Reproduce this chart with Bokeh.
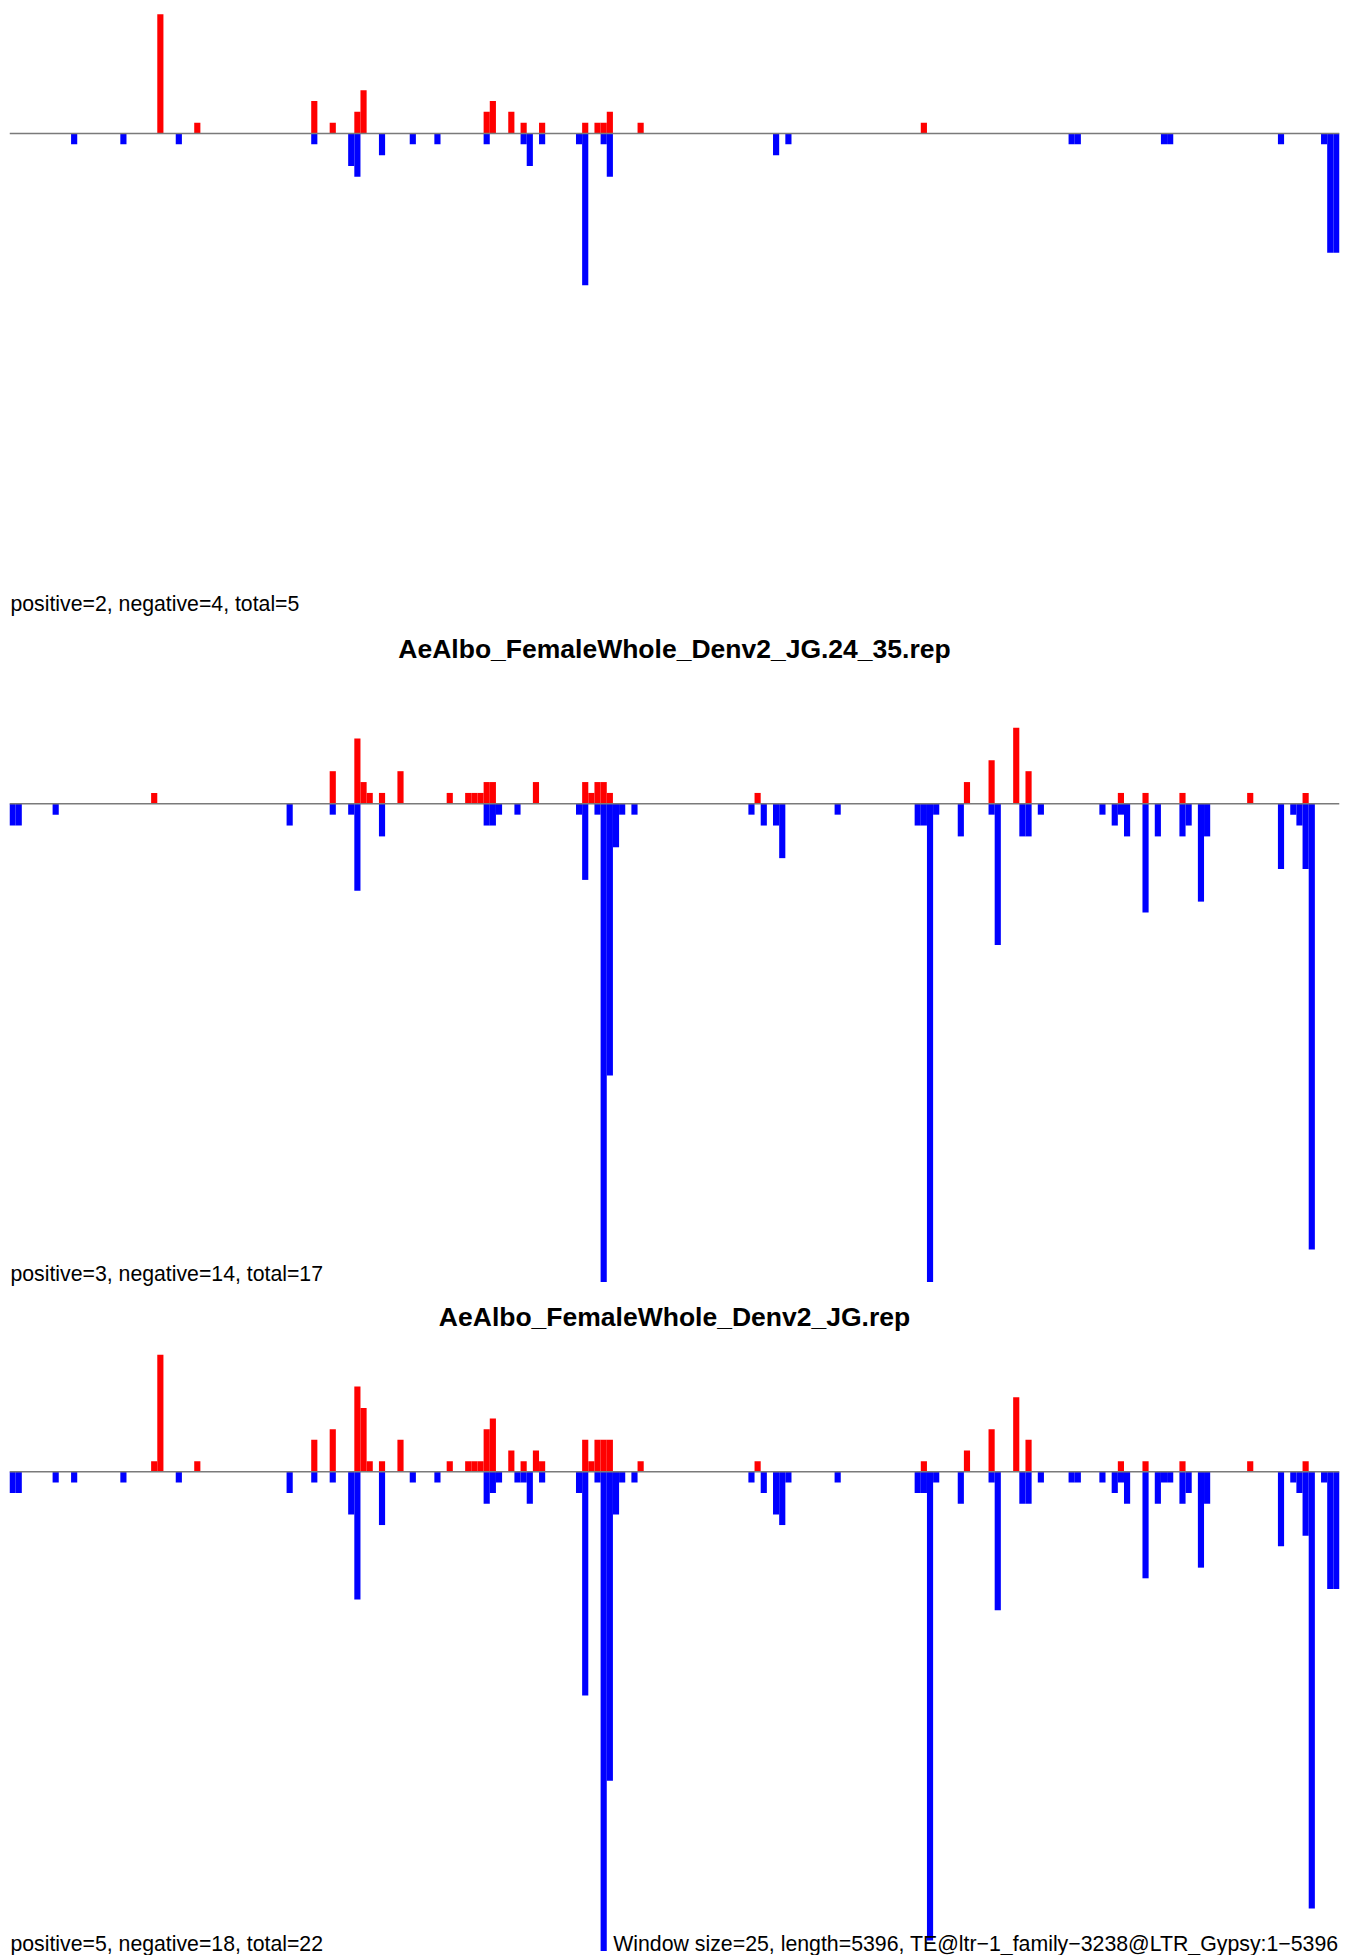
from bokeh.plotting import figure
from bokeh.models import Range1d, Label, ColumnDataSource, Span
from bokeh.layouts import column
from bokeh.embed import file_html
from bokeh.resources import INLINE

WINDOW = 25
LENGTH = 5396
N_WIN = 216

# ---- panel 1 (its title lies above the visible area) ----
p1_pos_win = [24, 30, 49, 52, 56, 57, 77, 78, 81, 83, 86, 93, 95, 96, 97, 102, 148]
p1_pos_val = [11, 1, 3, 1, 2, 4, 2, 3, 2, 1, 1, 1, 1, 1, 2, 1, 1]
p1_neg_win = [10, 18, 27, 49, 55, 56, 60, 65, 69, 77, 83, 84, 86, 92, 93, 96, 97,
              124, 126, 172, 173, 187, 188, 206, 213, 214, 215]
p1_neg_val = [1, 1, 1, 1, 3, 4, 2, 1, 1, 1, 1, 3, 1, 1, 14, 1, 4,
              2, 1, 1, 1, 1, 1, 1, 1, 11, 11]

# ---- panel 2 ----
p2_pos_win = [23, 52, 56, 57, 58, 60, 63, 71, 74, 75, 76, 77, 78, 85, 93, 94, 95, 96, 97,
              121, 155, 159, 163, 165, 180, 184, 190, 201, 210]
p2_pos_val = [1, 3, 6, 2, 1, 1, 3, 1, 1, 1, 1, 2, 2, 2, 2, 1, 2, 2, 1,
              1, 2, 4, 7, 3, 1, 1, 1, 1, 1]
p2_neg_win = [0, 1, 7, 45, 52, 55, 56, 60, 77, 78, 79, 82, 92, 93, 95, 96, 97, 98, 99, 101,
              120, 122, 124, 125, 134, 147, 148, 149, 150, 154, 159, 160, 164, 165, 167,
              177, 179, 180, 181, 184, 186, 190, 191, 193, 194, 206, 208, 209, 210, 211]
p2_neg_val = [2, 2, 1, 2, 1, 1, 8, 3, 2, 2, 1, 1, 1, 7, 1, 44, 25, 4, 1, 1,
              1, 2, 2, 5, 1, 2, 2, 44, 1, 3, 1, 13, 3, 3, 1,
              1, 2, 1, 3, 10, 3, 3, 2, 9, 3, 6, 1, 2, 6, 41]

# ---- panel 3 ----
p3_pos_win = [23, 24, 30, 49, 52, 56, 57, 58, 60, 63, 71, 74, 75, 76, 77, 78, 81, 83, 85, 86,
              93, 94, 95, 96, 97, 102, 121, 148, 155, 159, 163, 165, 180, 184, 190, 201, 210]
p3_pos_val = [1, 11, 1, 3, 4, 8, 6, 1, 1, 3, 1, 1, 1, 1, 4, 5, 2, 1, 2, 1,
              3, 1, 3, 3, 3, 1, 1, 1, 2, 4, 7, 3, 1, 1, 1, 1, 1]
p3_neg_win = [0, 1, 7, 10, 18, 27, 45, 49, 52, 55, 56, 60, 65, 69, 77, 78, 79, 82, 83, 84, 86,
              92, 93, 95, 96, 97, 98, 99, 101, 120, 122, 124, 125, 126, 134, 147, 148, 149, 150,
              154, 159, 160, 164, 165, 167, 172, 173, 177, 179, 180, 181, 184, 186, 187, 188,
              190, 191, 193, 194, 206, 208, 209, 210, 211, 213, 214, 215]
p3_neg_val = [2, 2, 1, 1, 1, 1, 2, 1, 1, 4, 12, 5, 1, 1, 3, 2, 1, 1, 1, 3, 1,
              2, 21, 1, 45, 29, 4, 1, 1, 1, 2, 4, 5, 1, 1, 2, 2, 44, 1,
              3, 1, 13, 3, 3, 1, 1, 1, 1, 2, 1, 3, 10, 3, 1, 1,
              3, 2, 9, 3, 7, 1, 2, 6, 41, 1, 11, 11]

titles = [None,
          "AeAlbo_FemaleWhole_Denv2_JG.24_35.rep",
          "AeAlbo_FemaleWhole_Denv2_JG.rep"]
summaries = ["positive=2, negative=4, total=5",
             "positive=3, negative=14, total=17",
             "positive=5, negative=18, total=22"]
footer = "Window size=25, length=5396, TE@ltr\u22121_family\u22123238@LTR_Gypsy:1\u22125396"

FONT = "Liberation Sans"
W_TOTAL = 1356
LEFT = 9
FRAME_W = 1330
BELOW = 484        # frame bottom below the zero line, px


def make_panel(pos_w, pos_v, neg_w, neg_v, base_from_top, u,
               title, summary, summary_px, foot=None):
    frame_h = int(round(base_from_top + BELOW))
    top = base_from_top / u
    bottom = -(frame_h - base_from_top) / u
    p = figure(width=W_TOTAL, height=frame_h,
               x_range=Range1d(0, N_WIN * WINDOW), y_range=Range1d(bottom, top),
               output_backend="svg", toolbar_location=None,
               x_axis_location=None, y_axis_location=None,
               min_border_left=LEFT, min_border_right=W_TOTAL - LEFT - FRAME_W,
               min_border_top=0, min_border_bottom=0,
               outline_line_color=None, background_fill_color="white",
               border_fill_color="white")
    p.grid.visible = False

    pos = ColumnDataSource(dict(left=[w * WINDOW for w in pos_w],
                                right=[(w + 1) * WINDOW for w in pos_w],
                                top=pos_v))
    neg = ColumnDataSource(dict(left=[w * WINDOW for w in neg_w],
                                right=[(w + 1) * WINDOW for w in neg_w],
                                bottom=[-v for v in neg_v]))
    p.quad(left="left", right="right", top="top", bottom=0, source=pos,
           fill_color="#FF0000", line_color=None)
    p.quad(left="left", right="right", top=0, bottom="bottom", source=neg,
           fill_color="#0000FF", line_color=None)
    p.add_layout(Span(location=0, dimension="width", line_color="#7a7a7a",
                      line_width=1.5))

    if title:
        p.add_layout(Label(x=N_WIN * WINDOW / 2, y=155.0 / u, text=title,
                           text_font=FONT, text_font_size="26.5px",
                           text_font_style="bold", text_align="center",
                           text_baseline="alphabetic", text_color="black"))
    p.add_layout(Label(x=4, y=-(summary_px - 8) / u, text=summary,
                       text_font=FONT, text_font_size="21.25px",
                       text_align="left", text_baseline="alphabetic",
                       text_color="black"))
    if foot:
        p.add_layout(Label(x=LENGTH, y=-(summary_px - 8) / u, text=foot,
                           text_font=FONT, text_font_size="21.3px",
                           text_align="right", text_baseline="alphabetic",
                           text_color="black"))
    return p


f1 = make_panel(p1_pos_win, p1_pos_val, p1_neg_win, p1_neg_val,
                133.0, 10.84, titles[0], summaries[0], 478.0)
f2 = make_panel(p2_pos_win, p2_pos_val, p2_neg_win, p2_neg_val,
                186.3, 10.87, titles[1], summaries[1], 477.7)
f3 = make_panel(p3_pos_win, p3_pos_val, p3_neg_win, p3_neg_val,
                184.3, 10.65, titles[2], summaries[2], 479.7, footer)

layout = column(f1, f2, f3, spacing=0)
open("out.html", "w").write(file_html(layout, INLINE))
